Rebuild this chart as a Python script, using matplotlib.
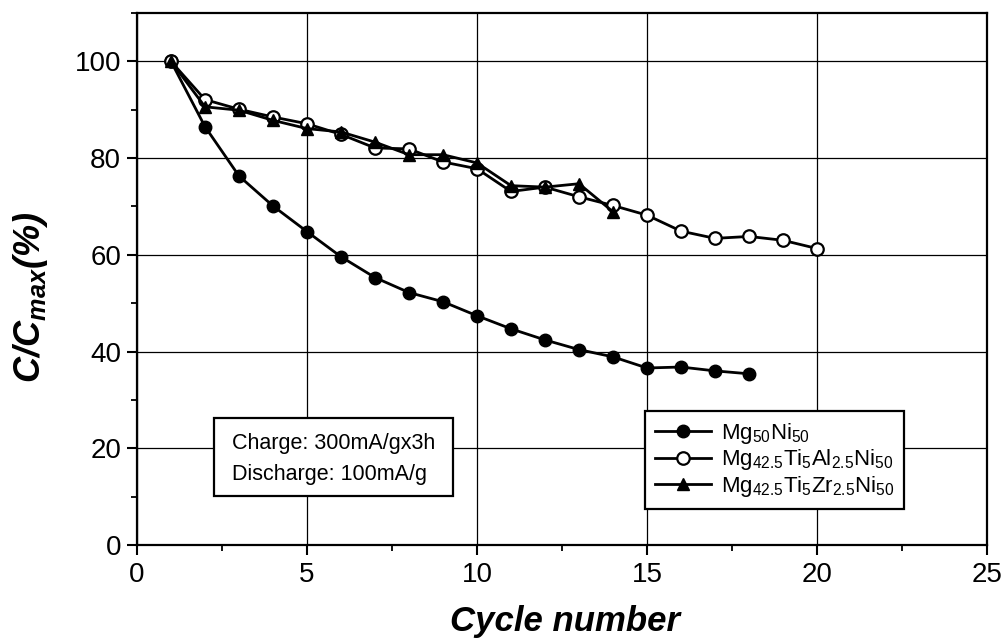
import matplotlib
matplotlib.use("Agg")
import matplotlib.pyplot as plt
from matplotlib.patches import Rectangle
from matplotlib.ticker import MultipleLocator

plt.rcParams["font.family"] = ["Liberation Sans", "DejaVu Sans"]
plt.rcParams["mathtext.default"] = "regular"

cycles_mgni = [1, 2, 3, 4, 5, 6, 7, 8, 9, 10, 11, 12, 13, 14, 15, 16, 17, 18]
cap_mgni = [100, 86.5, 76.3, 70.1, 64.8, 59.6, 55.3, 52.2, 50.3, 47.4,
            44.7, 42.4, 40.4, 38.9, 36.6, 36.8, 36.0, 35.4]

cycles_al = list(range(1, 21))
cap_al = [100, 92.1, 90.1, 88.5, 87.1, 84.9, 82.1, 81.9, 79.2, 77.8,
          73.1, 74.0, 72.0, 70.2, 68.2, 64.9, 63.4, 63.8, 63.0, 61.3]

cycles_zr = list(range(1, 15))
cap_zr = [100, 90.6, 89.9, 87.8, 86.1, 85.4, 83.3, 80.7, 80.7, 79.0,
          74.3, 74.0, 74.7, 68.9]

labels = [r"Mg$_{50}$Ni$_{50}$",
          r"Mg$_{42.5}$Ti$_{5}$Al$_{2.5}$Ni$_{50}$",
          r"Mg$_{42.5}$Ti$_{5}$Zr$_{2.5}$Ni$_{50}$"]
conditions = ["Charge: 300mA/gx3h", "Discharge: 100mA/g"]

fig = plt.figure(figsize=(10.02, 6.44), dpi=100)
ax = fig.add_axes([137 / 1002, 99 / 644, 850 / 1002, 532 / 644])

ax.grid(True, which="major", color="black", lw=0.9, zorder=0)
style = dict(color="black", lw=2.0, ms=9, zorder=3)
ax.plot(cycles_mgni, cap_mgni, marker="o", mfc="black", label=labels[0], **style)
ax.plot(cycles_al, cap_al, marker="o", mfc="white", mew=1.6, label=labels[1], **style)
ax.plot(cycles_zr, cap_zr, marker="^", mfc="black", label=labels[2], **style)

ax.set_xlim(0, 25)
ax.set_ylim(0, 110)
ax.xaxis.set_major_locator(MultipleLocator(5))
ax.xaxis.set_minor_locator(MultipleLocator(2.5))
ax.yaxis.set_major_locator(MultipleLocator(20))
ax.yaxis.set_minor_locator(MultipleLocator(10))
ax.tick_params(which="major", direction="out", length=7.5, width=1.5, labelsize=20)
ax.tick_params(axis="x", which="major", pad=5)
ax.tick_params(axis="y", which="major", pad=4)
ax.tick_params(which="minor", direction="out", length=4.5, width=1.3)
for sp in ax.spines.values():
    sp.set_linewidth(1.6)

ax.set_xlabel("Cycle number", fontsize=25, fontweight="bold", style="italic")
ax.set_ylabel("C/C$_{max}$(%)", fontsize=26, fontweight="bold", style="italic")
ax.xaxis.set_label_coords(0.503, -0.112)
ax.yaxis.set_label_coords(-0.102, 0.465)

leg = ax.legend(loc="lower left", bbox_to_anchor=(0.5976, 0.0675), bbox_transform=ax.transAxes,
                borderaxespad=0, fontsize=16, frameon=True, fancybox=False,
                handlelength=2.5, labelspacing=0.08, borderpad=0.45, handletextpad=0.45)
leg.get_frame().set_edgecolor("black")
leg.get_frame().set_linewidth(1.6)
leg.get_frame().set_alpha(1)

# test conditions box
ax.add_patch(Rectangle((0.0906, 0.0919), 0.2812, 0.1464, transform=ax.transAxes,
                       fc="white", ec="black", lw=1.6, zorder=4))
ax.text(0.1118, 0.1801, conditions[0], transform=ax.transAxes, fontsize=15.5,
        va="baseline", ha="left", zorder=5)
ax.text(0.1118, 0.1220, conditions[1], transform=ax.transAxes, fontsize=15.5,
        va="baseline", ha="left", zorder=5)

fig.savefig("out.png", dpi=100)
